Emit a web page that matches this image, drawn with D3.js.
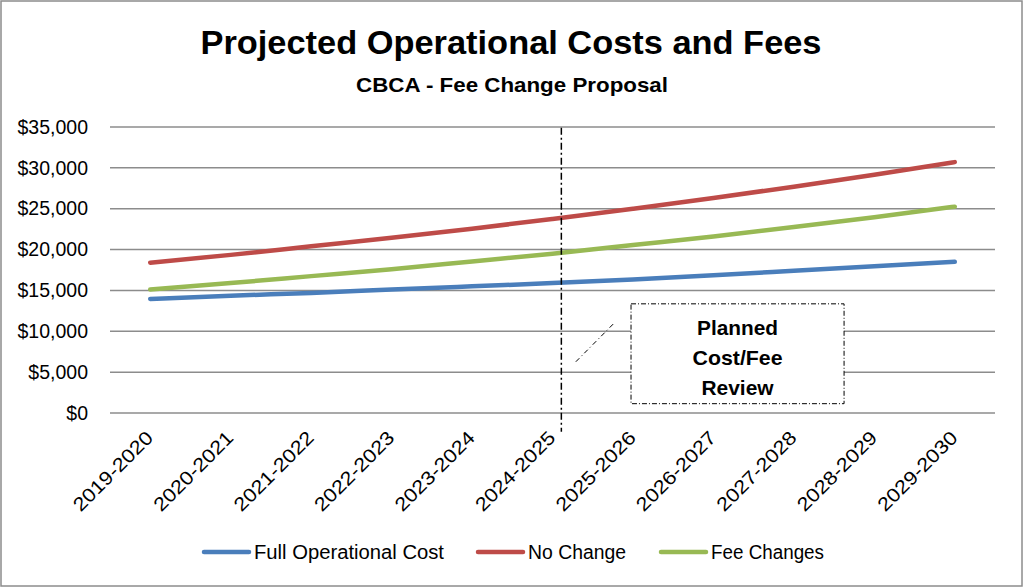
<!DOCTYPE html>
<html>
<head>
<meta charset="utf-8">
<script src="https://cdn.jsdelivr.net/npm/d3@7"></script>
<style>
  body { margin: 0; background: #fff; }
  svg { display: block; font-family: "Liberation Sans", Arial, sans-serif; }
</style>
</head>
<body>
<div id="chart"></div>
<script>
// categories and series
const years = ["2019-2020","2020-2021","2021-2022","2022-2023","2023-2024","2024-2025",
               "2025-2026","2026-2027","2027-2028","2028-2029","2029-2030"];
const fullCost   = [13950,14350,14700,15100,15500,15900,16350,16850,17400,17950,18500];
const noChange   = [18400,19350,20400,21450,22550,23750,25000,26300,27700,29150,30700];
const feeChanges = [15100,15900,16750,17600,18550,19500,20550,21600,22750,23950,25250];
const yTicks = [0,5000,10000,15000,20000,25000,30000,35000];

const seriesNames = ["Full Operational Cost","No Change","Fee Changes"];
const seriesColors = ["#4a7ebb","#be4b48","#98b954"];
const series = [fullCost, noChange, feeChanges];

const W = 1023, H = 587;
const m = {left: 110, right: 28, top: 127, bottom: 174};

const svg = d3.select("#chart").append("svg")
  .attr("width", W).attr("height", H);

// outer border
svg.append("rect")
  .attr("x", 1).attr("y", 1).attr("width", W - 2).attr("height", H - 2)
  .attr("fill", "#fff").attr("stroke", "#8c8c8c").attr("stroke-width", 1.5);

// titles (textLength squeezes the wider fallback font to the original width)
svg.append("text").attr("x", 511).attr("y", 54)
  .attr("text-anchor", "middle").attr("font-size", 34).attr("font-weight", "bold")
  .attr("textLength", 621).attr("lengthAdjust", "spacingAndGlyphs")
  .text("Projected Operational Costs and Fees");
svg.append("text").attr("x", 512).attr("y", 92)
  .attr("text-anchor", "middle").attr("font-size", 21).attr("font-weight", "bold")
  .attr("textLength", 312).attr("lengthAdjust", "spacingAndGlyphs")
  .text("CBCA - Fee Change Proposal");

const x = d3.scaleBand().domain(years).range([m.left, W - m.right]);
const y = d3.scaleLinear().domain([0, 35000]).range([H - m.bottom, m.top]);
const xc = d => x(d) + x.bandwidth() / 2;
// category index -> pixel, for the annotation shapes that sit between categories
const xi = d3.scaleLinear().domain([-0.5, years.length - 0.5]).range([m.left, W - m.right]);

// gridlines
svg.append("g").selectAll("line").data(yTicks).join("line")
  .attr("x1", m.left).attr("x2", W - m.right)
  .attr("y1", d => y(d)).attr("y2", d => y(d))
  .attr("stroke", "#8c8c8c").attr("stroke-width", 1.5);

// y axis labels
const yAxis = d3.axisLeft(y).tickValues(yTicks).tickSize(0).tickPadding(22)
  .tickFormat(d => "$" + d3.format(",")(d));
const gy = svg.append("g").attr("transform", `translate(${m.left},0)`).call(yAxis);
gy.select(".domain").remove();
gy.selectAll("text").attr("font-size", 19.5).attr("fill", "#000")
  .style("font-family", "inherit");

// x axis labels, rotated
const gx = svg.append("g");
gx.selectAll("text").data(years).join("text")
  .attr("transform", d => `translate(${xc(d) + 4},${y(0) + 26}) rotate(-45)`)
  .attr("text-anchor", "end")
  .attr("font-size", 19)
  .attr("textLength", 104).attr("lengthAdjust", "spacingAndGlyphs")
  .text(d => d);

// series lines
const line = d3.line().x((d, i) => xc(years[i])).y(d => y(d)).curve(d3.curveMonotoneX);
svg.append("g").selectAll("path").data(series).join("path")
  .attr("d", line)
  .attr("fill", "none")
  .attr("stroke", (d, i) => seriesColors[i])
  .attr("stroke-width", 4.5)
  .attr("stroke-linecap", "round");

// planned review marker
const markX = xi(5.11);
svg.append("line")
  .attr("x1", markX).attr("x2", markX)
  .attr("y1", y(34900)).attr("y2", y(-2300))
  .attr("stroke", "#000").attr("stroke-width", 1.5)
  .attr("stroke-dasharray", "7,3,2,3");

// callout box
svg.append("line")
  .attr("x1", xi(5.29)).attr("y1", y(6270))
  .attr("x2", xi(5.77)).attr("y2", y(11040))
  .attr("stroke", "#000").attr("stroke-width", 1)
  .attr("stroke-dasharray", "5,3,1,3");
const boxX0 = xi(5.976), boxX1 = xi(8.624);
const boxY0 = y(13360), boxY1 = y(1140);
svg.append("rect")
  .attr("x", boxX0).attr("y", boxY0)
  .attr("width", boxX1 - boxX0).attr("height", boxY1 - boxY0)
  .attr("fill", "#fff").attr("stroke", "#000").attr("stroke-width", 1)
  .attr("stroke-dasharray", "5,2,1,2");
const boxLines = ["Planned", "Cost/Fee", "Review"];
const boxWidths = [81, 90, 72];
svg.append("g").selectAll("text").data(boxLines).join("text")
  .attr("x", (boxX0 + boxX1) / 2)
  .attr("y", (d, i) => boxY0 + 31 + i * 30)
  .attr("text-anchor", "middle").attr("font-size", 21).attr("font-weight", "bold")
  .attr("textLength", (d, i) => boxWidths[i]).attr("lengthAdjust", "spacingAndGlyphs")
  .text(d => d);

// legend
const legX = [203, 477, 660];
const legW = [190, 98, 113];
const lg = svg.append("g").selectAll("g").data(seriesNames).join("g")
  .attr("transform", (d, i) => `translate(${legX[i]},552)`);
lg.append("line").attr("x1", 1).attr("x2", 46).attr("y1", 0).attr("y2", 0)
  .attr("stroke", (d, i) => seriesColors[i]).attr("stroke-width", 4.5)
  .attr("stroke-linecap", "round");
lg.append("text").attr("x", 51).attr("y", 7).attr("font-size", 19.5)
  .attr("textLength", (d, i) => legW[i]).attr("lengthAdjust", "spacingAndGlyphs")
  .text(d => d);
</script>
</body>
</html>
